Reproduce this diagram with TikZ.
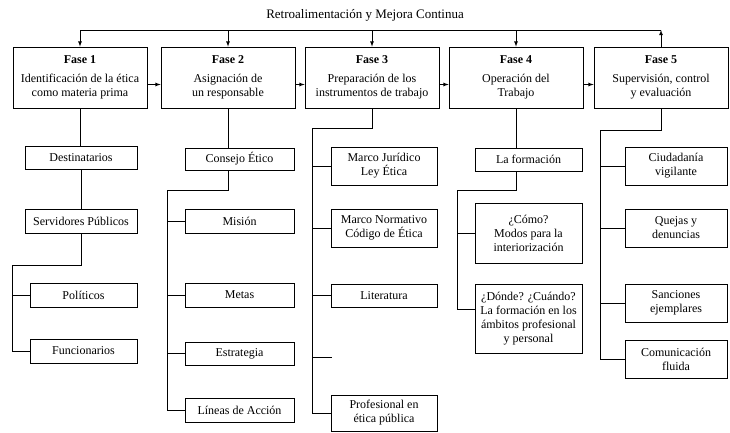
\documentclass[tikz,border=0pt]{standalone}
\usepackage{fontspec}
\setmainfont{Liberation Serif}
\usetikzlibrary{arrows, positioning, calc}

\begin{document}
\begin{tikzpicture}[x=1pt, y=-1pt, align=center, line width=0.8pt, >=latex]
\tikzstyle{fase}=[draw, minimum width=134pt, minimum height=61pt, font=\fontsize{12}{14}\selectfont]
\tikzstyle{tema}=[draw, inner sep=1pt, font=\fontsize{12}{14}\selectfont]

\useasboundingbox (0,0) rectangle (730,432);

% retroalimentacion
\node (titulo) at (365,15) {\fontsize{13}{15}\selectfont Retroalimentación y Mejora Continua};
\coordinate (arriba) at (0,30);

% fases
\node[fase] (f1) at (80,77.5) {\textbf{Fase 1}\\[5pt] Identificación de la ética\\como materia prima};
\node[fase] (f2) at (228,77.5) {\textbf{Fase 2}\\[5pt] Asignación de\\un responsable};
\node[fase] (f3) at (372,77.5) {\textbf{Fase 3}\\[5pt] Preparación de los\\instrumentos de trabajo};
\node[fase] (f4) at (516,77.5) {\textbf{Fase 4}\\[5pt] Operación del\\Trabajo};
\node[fase] (f5) at (661,77.5) {\textbf{Fase 5}\\[5pt] Supervisión, control\\y evaluación};

\draw (f1.north |- arriba) -- (f5.north |- arriba);
\foreach \f in {f1,f2,f3,f4}
  \draw[->] (\f.north |- arriba) -- (\f.north);
\draw[->] (f5.north) -- (f5.north |- arriba);
\foreach \a/\b in {f1/f2,f2/f3,f3/f4,f4/f5}
  \draw[->] ([yshift=-7pt]\a.east) -- ([yshift=-7pt]\b.west);

% fase 1
\node[tema, minimum width=112pt, minimum height=23pt] (destinatarios) at (81,157.5) {Destinatarios};
\node[tema, minimum width=112pt, minimum height=24pt] (servidores) at (81,221) {Servidores Públicos};
\node[tema, minimum width=107pt, minimum height=24pt] (politicos) at (83.5,295) {Políticos};
\node[tema, minimum width=107pt, minimum height=24pt] (funcionarios) at (83.5,351) {Funcionarios};
\coordinate (c1) at (12,265);

\draw (f1.south) -- (f1.south |- destinatarios.north);
\draw (destinatarios) -- (servidores);
\draw (servidores.south) |- (c1) |- (funcionarios.west);
\draw (c1 |- politicos.west) -- (politicos.west);

% fase 2
\node[tema, minimum width=109pt, minimum height=22pt] (consejo) at (239.5,159) {Consejo Ético};
\node[tema, minimum width=109pt, minimum height=24pt] (mision) at (239.5,221) {Misión};
\node[tema, minimum width=109pt, minimum height=24pt] (metas) at (239.5,295) {Metas};
\node[tema, minimum width=109pt, minimum height=23pt] (estrategia) at (239.5,353.5) {Estrategia};
\node[tema, minimum width=109pt, minimum height=24pt] (lineas) at (239.5,410) {Líneas de Acción};
\coordinate (c2) at (167,190);

\draw (f2.south) -- (f2.south |- consejo.north);
\draw (f2.south |- consejo.south) |- (c2) |- (lineas.west);
\foreach \n in {mision,metas,estrategia}
  \draw (c2 |- \n.west) -- (\n.west);

% fase 3
\node[tema, minimum width=106pt, minimum height=38pt] (juridico) at (384,166) {Marco Jurídico\\Ley Ética};
\node[tema, minimum width=106pt, minimum height=38pt] (normativo) at (384,228) {Marco Normativo\\Código de Ética};
\node[tema, minimum width=106pt, minimum height=23pt] (literatura) at (384,295.5) {Literatura};
\node[tema, minimum width=106pt, minimum height=36pt] (profesional) at (384,413) {Profesional en\\ética pública};
\coordinate (c3) at (312,128);
\coordinate (hueco) at (332,357);

\draw (f3.south) |- (c3) |- (profesional.west);
\foreach \n in {juridico,normativo,literatura}
  \draw (c3 |- \n.west) -- (\n.west);
\draw (c3 |- hueco) -- (hueco);

% fase 4
\node[tema, minimum width=107pt, minimum height=23pt] (formacion) at (528.5,159.5) {La formación};
\node[tema, minimum width=107pt, minimum height=60pt] (como) at (528.5,233) {¿Cómo?\\Modos para la\\interiorización};
\node[tema, minimum width=107pt, minimum height=69pt] (donde) at (528.5,318.5) {¿Dónde? ¿Cuándo?\\La formación en los\\ámbitos profesional\\y personal};
\coordinate (c4) at (457,190);

\draw (f4.south) -- (f4.south |- formacion.north);
\draw (f4.south |- formacion.south) |- (c4) |- ([yshift=9pt]donde.west);
\draw (c4 |- como.west) -- (como.west);

% fase 5
\node[tema, minimum width=102pt, minimum height=38pt] (ciudadania) at (676,166) {Ciudadanía\\vigilante};
\node[tema, minimum width=102pt, minimum height=38pt] (quejas) at (676,228) {Quejas y\\denuncias};
\node[tema, minimum width=102pt, minimum height=38pt] (sanciones) at (676,303) {Sanciones\\ejemplares};
\node[tema, minimum width=102pt, minimum height=38pt] (comunicacion) at (676,359) {Comunicación\\fluida};
\coordinate (c5) at (600,130);

\draw (f5.south) |- (c5) |- (comunicacion.west);
\foreach \n in {ciudadania,quejas,sanciones}
  \draw (c5 |- \n.west) -- (\n.west);
\end{tikzpicture}
\end{document}
